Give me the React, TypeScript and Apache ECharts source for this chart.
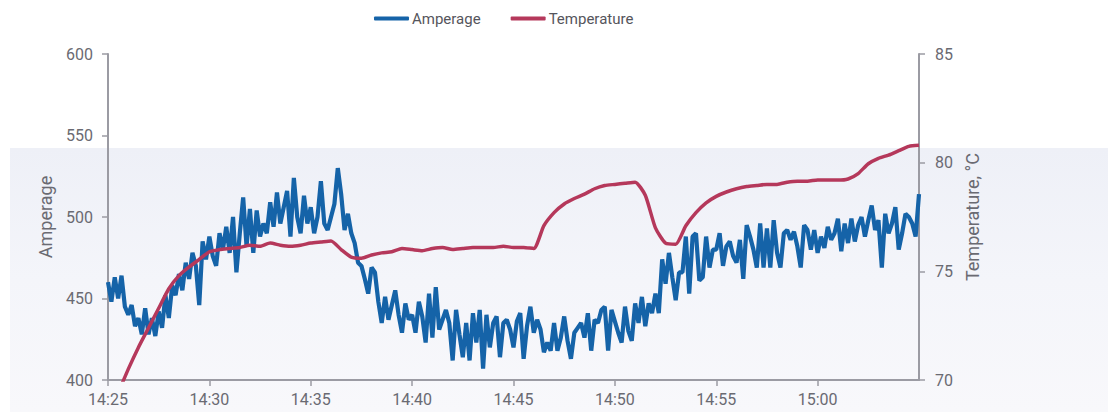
import React, { useEffect, useRef } from "react";
import * as echarts from "echarts";

const START = "2024-01-01T14:25:00Z";
const AMP_STEP_SEC = 10;
const TEMP_STEP_SEC = 30;
const X_SPAN_MIN = 40;
const X_TICK_MIN = 5;

const amperage: number[] = [
  // 14:25 - 14:30
  460, 448, 463, 450, 464, 445, 440, 446, 433, 438, 428, 444, 428, 438, 427, 442, 432, 452, 438, 458, 452, 465, 455, 472, 462, 478, 470, 446, 485, 474,
  // 14:30 - 14:35
  488, 476, 470, 490, 480, 494, 478, 500, 466, 490, 512, 482, 505, 478, 504, 488, 496, 490, 509, 494, 515, 496, 506, 516, 488, 524, 500, 490, 513, 496,
  // 14:35 - 14:40
  506, 490, 500, 522, 496, 492, 500, 508, 530, 514, 492, 502, 490, 484, 472, 470, 462, 453, 469, 466, 448, 435, 451, 437, 446, 455, 440, 429, 447, 437,
  // 14:40 - 14:45
  440, 429, 448, 439, 423, 453, 426, 457, 431, 437, 443, 435, 412, 443, 428, 414, 435, 412, 441, 423, 443, 407, 440, 420, 435, 439, 414, 435, 437, 431,
  // 14:45 - 14:50
  420, 436, 441, 413, 433, 445, 429, 437, 431, 417, 423, 418, 435, 418, 426, 439, 424, 413, 429, 432, 435, 426, 441, 418, 437, 435, 443, 445, 418, 443,
  // 14:50 - 14:55
  436, 429, 423, 445, 430, 424, 447, 435, 451, 433, 447, 441, 453, 441, 474, 459, 478, 463, 449, 466, 466, 488, 453, 488, 490, 461, 463, 488, 469, 480,
  // 14:55 - 15:00
  480, 490, 470, 482, 485, 476, 472, 486, 462, 495, 488, 480, 469, 496, 469, 493, 469, 498, 478, 469, 490, 492, 486, 491, 482, 469, 495, 492, 480, 492,
  // 15:00 - 15:05
  478, 488, 481, 494, 486, 490, 499, 479, 496, 484, 499, 485, 495, 500, 488, 498, 507, 492, 498, 469, 502, 490, 496, 506, 480, 490, 502, 500, 496, 488, 514,
];

const temperature: number[] = [
  68.3, 69.4, 70.5, 71.5, 72.4, 73.3, 74.2, 74.8, 75.2, 75.55,
  75.9, 76.0, 76.05, 76.1, 76.2, 76.15, 76.3, 76.2, 76.15, 76.2,
  76.3, 76.35, 76.4, 76.0, 75.65, 75.6, 75.75, 75.85, 75.9, 76.05,
  76.0, 75.95, 76.05, 76.1, 76.0, 76.05, 76.1, 76.1, 76.1, 76.15,
  76.1, 76.1, 76.05, 77.1, 77.7, 78.1, 78.35, 78.55, 78.8, 78.95,
  79.0, 79.05, 79.1, 78.5, 77.0, 76.3, 76.25, 77.1, 77.7, 78.15,
  78.45, 78.65, 78.8, 78.9, 78.95, 79.0, 79.0, 79.1, 79.15, 79.15,
  79.2, 79.2, 79.2, 79.25, 79.5, 79.95, 80.2, 80.35, 80.55, 80.75,
  80.8,
];

const ampTicks = [400, 450, 500, 550, 600];
const tempTicks = [70, 75, 80, 85];

const BLUE = "#1563a8";
const RED = "#b5385b";
const AXIS_GRAY = "#9b9ba3";
const LABEL_GRAY = "#6a6a72";
const FONT = "Roboto, 'Noto Sans', sans-serif";

export default function App() {
  const ref = useRef<HTMLDivElement>(null);

  useEffect(() => {
    if (!ref.current) return;
    const chart = echarts.init(ref.current, undefined, { renderer: "svg" });
    const t0 = new Date(START).getTime();
    const ampData = amperage.map((v, i) => [t0 + i * AMP_STEP_SEC * 1000, v]);
    const tempData = temperature.map((v, i) => [t0 + i * TEMP_STEP_SEC * 1000, v]);
    const tMax = t0 + X_SPAN_MIN * 60 * 1000;
    const pad = (n: number) => (n < 10 ? "0" + n : "" + n);

    chart.setOption({
      animation: false,
      backgroundColor: "#ffffff",
      textStyle: { fontFamily: FONT },
      graphic: [
        {
          type: "rect",
          z: -10,
          silent: true,
          shape: { x: 10, y: 148, width: 1098, height: 264 },
          style: {
            fill: new echarts.graphic.LinearGradient(0, 0, 0, 1, [
              { offset: 0, color: "#eef0f7" },
              { offset: 0.5, color: "#f4f5fa" },
              { offset: 1, color: "#f8f8fb" },
            ]),
          },
        },
      ],
      legend: {
        top: 6,
        left: 369,
        itemWidth: 35,
        itemHeight: 4,
        itemGap: 30,
        icon: "roundRect",
        textStyle: { color: "#55555c", fontSize: 15, fontFamily: FONT, padding: [0, 0, 0, -2] },
        data: ["Amperage", "Temperature"],
      },
      grid: { left: 108, right: 189, top: 54, bottom: 32, containLabel: false },
      xAxis: {
        type: "value",
        min: t0,
        max: tMax,
        interval: X_TICK_MIN * 60 * 1000,
        splitLine: { show: false },
        axisLine: { show: true, lineStyle: { color: AXIS_GRAY, width: 2 } },
        axisTick: { show: true, length: 6, lineStyle: { color: AXIS_GRAY, width: 1.5 } },
        axisLabel: {
          color: LABEL_GRAY,
          fontSize: 16,
          margin: 11,
          showMaxLabel: false,
          hideOverlap: false,
          formatter: (val: number) => {
            const d = new Date(val);
            return pad(d.getUTCHours()) + ":" + pad(d.getUTCMinutes());
          },
        },
      },
      yAxis: [
        {
          type: "value",
          min: ampTicks[0],
          max: ampTicks[ampTicks.length - 1],
          interval: 50,
          name: "Amperage",
          nameLocation: "middle",
          nameGap: 54,
          nameTextStyle: { color: LABEL_GRAY, fontSize: 18, fontFamily: FONT },
          splitLine: { show: false },
          axisLine: { show: true, lineStyle: { color: AXIS_GRAY, width: 2 } },
          axisTick: { show: true, length: 6, lineStyle: { color: AXIS_GRAY, width: 1.5 } },
          axisLabel: { color: LABEL_GRAY, fontSize: 16, margin: 15 },
        },
        {
          type: "value",
          min: tempTicks[0],
          max: tempTicks[tempTicks.length - 1],
          interval: 5,
          name: "Temperature, °C",
          nameLocation: "middle",
          nameGap: 44,
          nameTextStyle: { color: LABEL_GRAY, fontSize: 18, fontFamily: FONT },
          splitLine: { show: false },
          axisLine: { show: true, lineStyle: { color: AXIS_GRAY, width: 2 } },
          axisTick: { show: true, length: 6, lineStyle: { color: AXIS_GRAY, width: 1.5 } },
          axisLabel: { color: LABEL_GRAY, fontSize: 16, margin: 16 },
        },
      ],
      series: [
        {
          name: "Amperage",
          type: "line",
          yAxisIndex: 0,
          data: ampData,
          showSymbol: false,
          symbol: "none",
          color: BLUE,
          lineStyle: { color: BLUE, width: 4.2 },
          clip: true,
          z: 2,
        },
        {
          name: "Temperature",
          type: "line",
          yAxisIndex: 1,
          data: tempData,
          showSymbol: false,
          symbol: "none",
          smooth: 0.2,
          color: RED,
          lineStyle: { color: RED, width: 3.5 },
          clip: true,
          z: 3,
        },
      ],
    });

    return () => chart.dispose();
  }, []);

  return (
    <div
      ref={ref}
      style={{ position: "absolute", left: 0, top: 0, width: 1108, height: 412 }}
    />
  );
}
